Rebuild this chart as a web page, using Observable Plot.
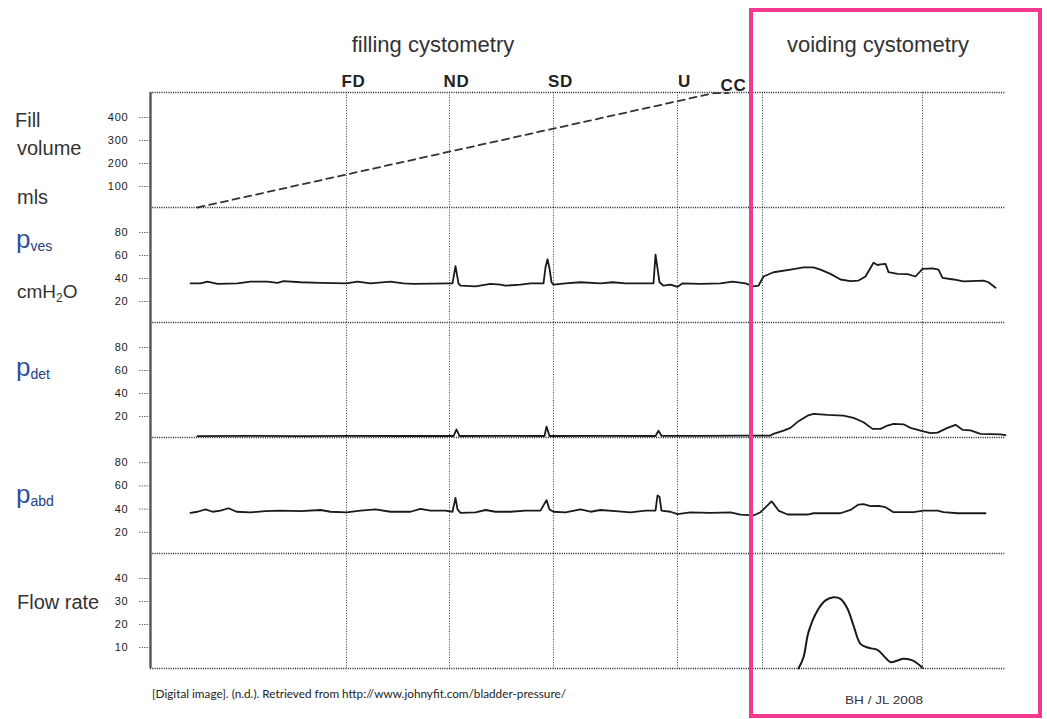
<!DOCTYPE html>
<html><head><meta charset="utf-8">
<script src="https://cdn.jsdelivr.net/npm/d3@7"></script>
<script src="https://cdn.jsdelivr.net/npm/@observablehq/plot@0.6"></script>
<style>
html,body{margin:0;padding:0;background:#fff;}
#chart{position:relative;width:1047px;height:719px;overflow:hidden;background:#fff;font-family:"Liberation Sans",Arial,sans-serif;}
#chart svg{position:absolute;left:0;}
</style></head><body><div id="chart"></div>
<script>
// ---- time axis (s) and event markers ----
const timeDomain = [0, 855];
const markerLabels = ["FD", "ND", "SD", "U"];
const markerTimes = [196, 299, 403, 527];
const voidGridTimes = [612, 772];
const ccLabel = "CC";
const ccTime = 577;

// ---- Fill volume (ml) ----
const fillTimes = [47, 563, 578];
const fillVolumes = [0, 497, 497];
const fillTicks = [100, 200, 300, 400];

// ---- p_ves (cmH2O) ----
const pvesTimes = [40,50,57,67,87,100,117,127,133,150,170,196,207,220,240,253,263,299,302,305,308,310,325,340,350,355,370,380,393,395,397,399,401,403,415,430,450,462,475,490,503,505,507,509,513,520,527,532,550,570,582,595,603,608,613,623,640,653,663,670,680,690,700,708,715,723,727,730,735,738,747,757,765,772,782,788,792,803,813,833,838,845];
const pvesValues = [34,34,35.5,33.5,34,35.5,35.5,34.5,36,35,34.5,34,35.5,34,35.5,34,33.5,34,34,49,34,32,31.5,33.5,33,32,33,34,34,48,55,47,35,33,34,35,34,35,34,34,34,59,47,35,32,33,31,34,33.5,34,35.5,34,31.4,32,40,43.7,46,48,48,46,42.3,37.4,36,36.5,40,52,50,50.5,51,43.8,42.3,42,40,46.6,47,46,38.8,37.4,35.7,36.5,35,30.2];

// ---- p_det (cmH2O) ----
const pdetTimes = [47,100,150,200,250,303,306,309,350,394,396,399,450,505,508,511,550,590,620,623,633,640,648,657,663,677,693,703,713,722,730,737,743,753,760,770,780,787,797,805,812,820,830,850,855];
const pdetValues = [1.2,1.5,1.2,1.4,1.3,1.3,7,1.3,1.5,1.3,9.5,1.3,1.5,1.3,6,1.5,1.5,1.7,1.7,3.2,6,8.4,14.2,19,20.6,19.7,19,17,13.3,7.5,7.5,10.4,11.9,11.5,8.4,6,3.8,4.2,8.4,11,6.7,6.2,3.2,2.8,2];

// ---- p_abd (cmH2O) ----
const pabdTimes = [40,47,55,62,70,78,86,100,115,130,150,170,180,196,210,225,240,260,270,280,295,302,305,307,310,325,335,345,360,375,390,396,399,403,415,430,440,450,465,480,495,505,507,509,511,520,527,540,560,580,590,603,610,617,621,623,628,637,657,663,690,700,708,713,720,728,735,743,763,773,787,793,807,835];
const pabdValues = [35,36,38,36,37,39,36,35.5,36.5,37,36.5,37.5,36,35.5,37,38,36,36,38.5,37,37,36,48,38,35,35.5,37.5,36,36,37,37,46,38,36,35.5,38,36,37.5,36.5,35.5,37,37,50,49,37,36,34,35.5,35,35.5,33.6,32.8,35.6,41.4,45,43,37,33.6,33.6,34.7,34.7,37.6,42.2,42.5,40.8,41,39.9,35.6,35.6,37,37,35.6,34.7,34.7];
const pressureTicks = [20, 40, 60, 80];

// ---- Flow rate (ml/s) ----
const flowTimes = [648,653,658,667,675,683,690,697,703,710,718,727,733,740,747,753,762,772];
const flowValues = [0,4.9,15.8,25.2,29.6,31,30.3,26,18.7,10.7,9,8.1,5.6,2.8,3.5,4.2,3.5,0.3];
const flowTicks = [10, 20, 30, 40];

const zip = (ts, vs) => ts.map((t, i) => ({t, v: vs[i]}));
const gridTimes = markerTimes.concat(voidGridTimes);
const chart = document.getElementById("chart");

function panel({top, height, marginTop = 0, yDomain, ticks, marks, drawTop = false}) {
  const p = Plot.plot({
    width: 1047,
    height: height + marginTop,
    marginLeft: 150, marginRight: 42, marginTop, marginBottom: 0,
    x: {domain: timeDomain, axis: null},
    y: {domain: yDomain},
    style: {background: "transparent", overflow: "visible", fontFamily: "'Liberation Sans', Arial, sans-serif", fontSize: "11px", color: "#1a1a1a", letterSpacing: "0.8px"},
    marks: [
      Plot.axisY({ticks, tickSize: 12, tickPadding: 10, strokeDasharray: "1,1.4", stroke: "#333", label: null, dy: 2}),
      Plot.ruleX(gridTimes, {stroke: "#3a3a3a", strokeWidth: 1, strokeDasharray: "1,1.6"}),
      Plot.ruleY([yDomain[0]], {stroke: "#1a1a1a", strokeWidth: 1.6, strokeDasharray: "1,1.3"}),
      drawTop ? Plot.ruleY([yDomain[1]], {stroke: "#1a1a1a", strokeWidth: 1.6, strokeDasharray: "1,1.3"}) : null,
      Plot.ruleX([0], {stroke: "#555", strokeWidth: 2.4}),
      ...marks
    ]
  });
  p.style.top = (top - marginTop) + "px";
  chart.appendChild(p);
}

// Fill volume
panel({
  top: 92, height: 115, marginTop: 30, yDomain: [0, 500], ticks: fillTicks, drawTop: true,
  marks: [
    Plot.line(zip(fillTimes, fillVolumes), {x: "t", y: "v", stroke: "#333", strokeWidth: 1.8, strokeDasharray: "7,5"}),
    Plot.text(markerLabels.map((label, i) => ({label, t: markerTimes[i]})), {x: "t", text: "label", frameAnchor: "top", lineAnchor: "bottom", dy: -6, dx: 7, fontWeight: "bold", fontSize: 17, fill: "#222"}),
    Plot.text([{label: ccLabel, t: ccTime}], {x: "t", text: "label", frameAnchor: "top", lineAnchor: "bottom", dy: -2, dx: 6, fontWeight: "bold", fontSize: 17, fill: "#222"})
  ]
});
// p_ves
panel({top: 207, height: 115, yDomain: [0, 100], ticks: pressureTicks,
  marks: [Plot.line(zip(pvesTimes, pvesValues), {x: "t", y: "v", stroke: "#1a1a1a", strokeWidth: 1.8})]});
// p_det
panel({top: 322, height: 115, yDomain: [0, 100], ticks: pressureTicks,
  marks: [Plot.line(zip(pdetTimes, pdetValues), {x: "t", y: "v", stroke: "#1a1a1a", strokeWidth: 1.8})]});
// p_abd
panel({top: 437, height: 116, yDomain: [0, 100], ticks: pressureTicks,
  marks: [Plot.line(zip(pabdTimes, pabdValues), {x: "t", y: "v", stroke: "#1a1a1a", strokeWidth: 1.8})]});
// Flow rate
panel({top: 553, height: 115, yDomain: [0, 50], ticks: flowTicks,
  marks: [Plot.line(zip(flowTimes, flowValues), {x: "t", y: "v", stroke: "#1a1a1a", strokeWidth: 2, curve: "catmull-rom"})]});

// ---- overlay: titles, row labels, caption, highlight box ----
const svg = d3.create("svg").attr("width", 1047).attr("height", 719)
  .style("top", "0px").style("pointer-events", "none")
  .attr("font-family", "'Liberation Sans', Arial, sans-serif");
svg.append("text").attr("x", 433).attr("y", 52).attr("text-anchor", "middle").attr("font-size", 22).attr("fill", "#333").text("filling cystometry");
svg.append("text").attr("x", 878).attr("y", 52).attr("text-anchor", "middle").attr("font-size", 22).attr("fill", "#333").text("voiding cystometry");

const lbl = (x, y, s) => svg.append("text").attr("x", x).attr("y", y).attr("font-size", 20).attr("fill", "#333").text(s);
lbl(15, 127, "Fill"); lbl(17, 155, "volume"); lbl(17, 204, "mls"); lbl(17, 609, "Flow rate");
const cm = svg.append("text").attr("x", 17).attr("y", 298).attr("font-size", 19).attr("fill", "#333");
cm.append("tspan").text("cmH"); cm.append("tspan").attr("font-size", 12).attr("dy", 4).text("2"); cm.append("tspan").attr("dy", -4).text("O");
const pl = (y, sub) => {
  const t = svg.append("text").attr("x", 16).attr("y", y).attr("fill", "#2f4f9f");
  t.append("tspan").attr("font-size", 26).text("p");
  t.append("tspan").attr("font-size", 14).attr("dy", 3).attr("fill", "#26407f").text(sub);
};
pl(248, "ves"); pl(376, "det"); pl(503, "abd");

svg.append("text").attr("x", 152).attr("y", 698).attr("font-family", "Lato, 'Open Sans', sans-serif").attr("font-size", 11).attr("fill", "#222")
  .attr("textLength", 414).attr("lengthAdjust", "spacingAndGlyphs")
  .text("[Digital image]. (n.d.). Retrieved from http://www.johnyfit.com/bladder-pressure/");
svg.append("text").attr("x", 845).attr("y", 704).attr("font-size", 11).attr("fill", "#333")
  .attr("textLength", 78).attr("lengthAdjust", "spacingAndGlyphs").text("BH / JL 2008");
svg.append("rect").attr("x", 751).attr("y", 10).attr("width", 289).attr("height", 706)
  .attr("fill", "none").attr("stroke", "#f4378f").attr("stroke-width", 4);
chart.appendChild(svg.node());
</script></body></html>
